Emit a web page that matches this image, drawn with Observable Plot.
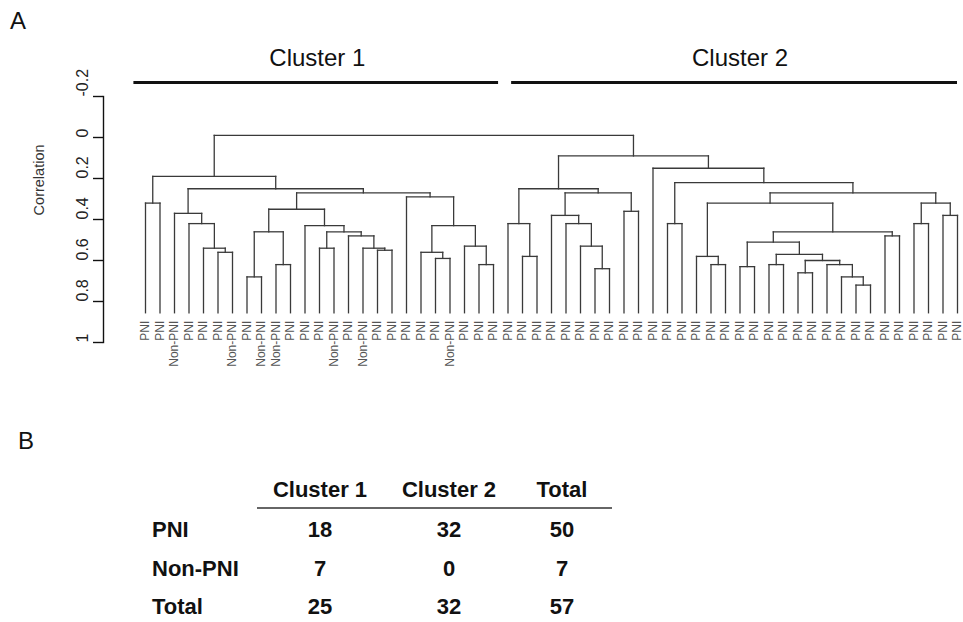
<!DOCTYPE html>
<html><head><meta charset="utf-8">
<script src="https://cdn.jsdelivr.net/npm/d3@7"></script>
<script src="https://cdn.jsdelivr.net/npm/@observablehq/plot@0.6"></script>
<style>
body{margin:0;background:#fff;}
#fig{position:relative;width:963px;height:622px;font-family:"Liberation Sans",Arial,sans-serif;overflow:hidden;background:#fff}
.abs{position:absolute;white-space:nowrap;line-height:1}
</style></head><body><div id="fig"></div>
<script>
// ---------- data ----------
const leafLabels = [
  "PNI","PNI","Non-PNI","PNI","PNI","PNI","Non-PNI","PNI","Non-PNI","Non-PNI",
  "PNI","PNI","PNI","Non-PNI","PNI","Non-PNI","PNI","PNI","PNI","PNI",
  "PNI","Non-PNI","PNI","PNI","PNI",
  "PNI","PNI","PNI","PNI","PNI","PNI","PNI","PNI","PNI","PNI",
  "PNI","PNI","PNI","PNI","PNI","PNI","PNI","PNI","PNI","PNI",
  "PNI","PNI","PNI","PNI","PNI","PNI","PNI","PNI","PNI","PNI",
  "PNI","PNI"
];
// merges: a/b are leaf indices (numbers) or earlier merge ids; h = correlation height
const merges = [
  {id:"n1", a:5, b:6, h:0.56},
  {id:"n2", a:4, b:"n1", h:0.54},
  {id:"n3", a:3, b:"n2", h:0.42},
  {id:"n4", a:2, b:"n3", h:0.37},
  {id:"n5", a:0, b:1, h:0.32},
  {id:"n6", a:7, b:8, h:0.68},
  {id:"n7", a:9, b:10, h:0.62},
  {id:"n8", a:"n6", b:"n7", h:0.46},
  {id:"n9", a:12, b:13, h:0.54},
  {id:"n10", a:16, b:17, h:0.55},
  {id:"n11", a:15, b:"n10", h:0.54},
  {id:"n12", a:14, b:"n11", h:0.48},
  {id:"n13", a:"n9", b:"n12", h:0.46},
  {id:"n14", a:11, b:"n13", h:0.43},
  {id:"n15", a:"n8", b:"n14", h:0.35},
  {id:"n16", a:20, b:21, h:0.59},
  {id:"n17", a:19, b:"n16", h:0.56},
  {id:"n18", a:23, b:24, h:0.62},
  {id:"n19", a:22, b:"n18", h:0.53},
  {id:"n20", a:"n17", b:"n19", h:0.43},
  {id:"n21", a:18, b:"n20", h:0.29},
  {id:"n22", a:"n15", b:"n21", h:0.27},
  {id:"n23", a:"n4", b:"n22", h:0.25},
  {id:"n24", a:"n5", b:"n23", h:0.19},
  {id:"m1", a:26, b:27, h:0.58},
  {id:"m2", a:25, b:"m1", h:0.42},
  {id:"m3", a:31, b:32, h:0.64},
  {id:"m4", a:30, b:"m3", h:0.53},
  {id:"m5", a:29, b:"m4", h:0.42},
  {id:"m6", a:28, b:"m5", h:0.38},
  {id:"m7", a:33, b:34, h:0.36},
  {id:"m8", a:"m6", b:"m7", h:0.27},
  {id:"m9", a:"m2", b:"m8", h:0.25},
  {id:"m10", a:36, b:37, h:0.42},
  {id:"m11", a:39, b:40, h:0.62},
  {id:"m12", a:38, b:"m11", h:0.58},
  {id:"m13", a:41, b:42, h:0.63},
  {id:"m14", a:43, b:44, h:0.62},
  {id:"m15", a:45, b:46, h:0.66},
  {id:"m16", a:49, b:50, h:0.72},
  {id:"m17", a:48, b:"m16", h:0.68},
  {id:"m18", a:47, b:"m17", h:0.62},
  {id:"m19", a:"m15", b:"m18", h:0.60},
  {id:"m20", a:"m14", b:"m19", h:0.57},
  {id:"m21", a:"m13", b:"m20", h:0.51},
  {id:"m22", a:51, b:52, h:0.48},
  {id:"m23", a:"m21", b:"m22", h:0.46},
  {id:"m24", a:"m12", b:"m23", h:0.32},
  {id:"m25", a:53, b:54, h:0.42},
  {id:"m26", a:55, b:56, h:0.38},
  {id:"m27", a:"m25", b:"m26", h:0.32},
  {id:"m28", a:"m24", b:"m27", h:0.27},
  {id:"m29", a:"m10", b:"m28", h:0.22},
  {id:"m30", a:35, b:"m29", h:0.15},
  {id:"m31", a:"m9", b:"m30", h:0.09},
  {id:"root", a:"n24", b:"m31", h:-0.01}
];
const leafHeight = 0.855;
const clusterNames = ["Cluster 1", "Cluster 2"];
const clusterSpanStart = [-0.8, 25.25];
const clusterSpanEnd = [24.35, 56];
const clusterLabelAt = [11.85, 41.0];
const yTicks = [-0.2, 0, 0.2, 0.4, 0.6, 0.8, 1];
const tableColumns = ["Cluster 1", "Cluster 2", "Total"];
const tableRows = ["PNI", "Non-PNI", "Total"];
const tableValues = [[18, 32, 50], [7, 0, 7], [25, 32, 57]];

// ---------- build dendrogram segments ----------
const pos = new Map();
const ref = r => typeof r === "number" ? {x: r, h: leafHeight} : pos.get(r);
const segs = [];
for (const m of merges) {
  const a = ref(m.a), b = ref(m.b);
  pos.set(m.id, {x: (a.x + b.x) / 2, h: m.h});
  segs.push({x1: a.x, x2: b.x, y1: m.h, y2: m.h});
  segs.push({x1: a.x, x2: a.x, y1: m.h, y2: a.h});
  segs.push({x1: b.x, x2: b.x, y1: m.h, y2: b.h});
}
const leaves = leafLabels.map((label, i) => ({i, label}));
const clusters = clusterNames.map((name, k) => ({name, x1: clusterSpanStart[k], x2: clusterSpanEnd[k], mid: clusterLabelAt[k]}));

const chart = Plot.plot({
  width: 963, height: 400,
  marginTop: 96, marginBottom: 58, marginLeft: 103, marginRight: 6,
  style: {fontFamily: "'Liberation Sans', Arial, sans-serif", background: "transparent", overflow: "visible"},
  x: {domain: [0, 56], range: [145, 957], axis: null},
  y: {domain: [-0.2, 1], range: [96, 342], axis: null},
  marks: [
    Plot.frame({anchor: "left", stroke: "#111", strokeWidth: 1.4}),
    Plot.axisY(yTicks, {anchor: "left", tickSize: 10, tickFormat: () => "", stroke: "#111", strokeWidth: 1.4, label: null}),
    Plot.text(yTicks, {y: d => d, text: d => String(d), frameAnchor: "left", dx: -21, rotate: -90, fontSize: 16, fill: "#222"}),
    Plot.text(["Correlation"], {y: () => 0.38, frameAnchor: "left", dx: -64, rotate: -90, fontSize: 14.5, fill: "#333"}),
    Plot.link(segs, {x1: "x1", y1: "y1", x2: "x2", y2: "y2", stroke: "#3a3a3a", strokeWidth: 1.3, strokeLinecap: "square"}),
    Plot.text(leaves, {x: "i", y: () => leafHeight, text: "label", rotate: -90, textAnchor: "end", lineAnchor: "middle", dy: 8, fontSize: 12, fill: "#555"}),
    Plot.ruleY(clusters, {x1: "x1", x2: "x2", y: () => -0.2, dy: -14, stroke: "#111", strokeWidth: 3}),
    Plot.text(clusters, {x: "mid", y: () => -0.2, dy: -38, text: "name", fontSize: 24, fill: "#111"})
  ]
});
const fig = document.getElementById("fig");
chart.style.position = "absolute"; chart.style.left = "0px"; chart.style.top = "0px";
fig.appendChild(chart);

function put(text, x, y, opts = {}) {
  const d = document.createElement("div");
  d.className = "abs";
  d.textContent = text;
  d.style.left = x + "px"; d.style.top = y + "px";
  d.style.fontSize = (opts.size || 22) + "px";
  d.style.fontWeight = opts.bold ? "bold" : "normal";
  d.style.color = opts.color || "#111";
  d.style.transform = opts.center ? "translate(-50%,-50%)" : "translate(0,-50%)";
  fig.appendChild(d);
}
put("A", 10, 21, {size: 24});
put("B", 18, 441, {size: 24});
const colX = [320, 449, 562];
const headerY = 490;
const rowY = [530, 569, 607];
tableColumns.forEach((c, j) => put(c, colX[j], headerY, {bold: true, center: true}));
tableRows.forEach((r, i) => {
  put(r, 152, rowY[i], {bold: true});
  tableValues[i].forEach((v, j) => put(String(v), colX[j], rowY[i], {bold: true, center: true}));
});
const hr = document.createElement("div");
hr.style.cssText = "position:absolute;left:257px;top:507px;width:355px;height:0;border-top:2px solid #666";
fig.appendChild(hr);
</script></body></html>
